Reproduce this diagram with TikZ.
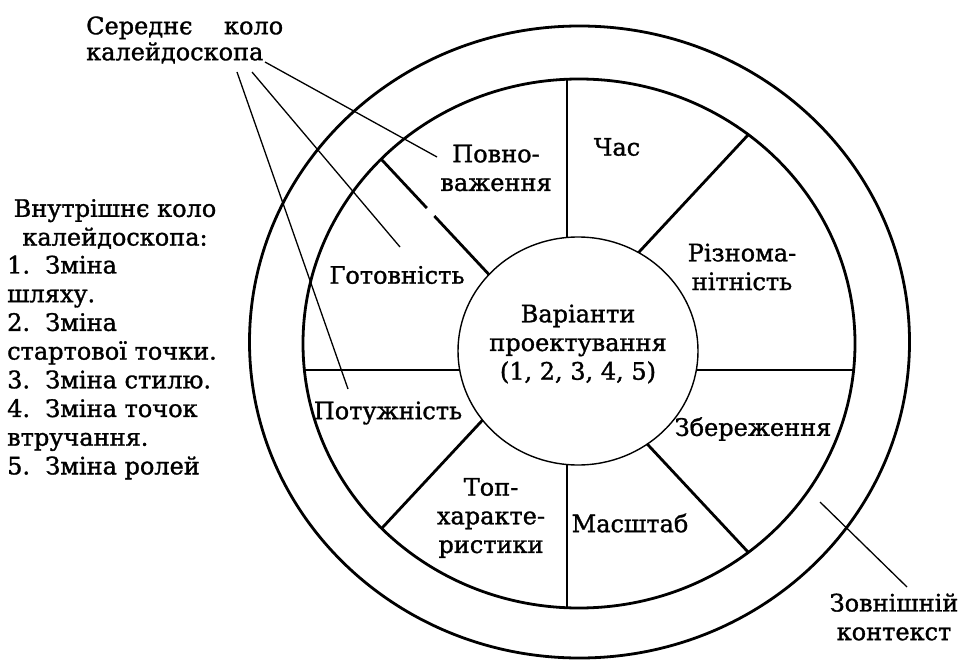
\documentclass[tikz,border=0pt]{standalone}
\usepackage{fontspec}
\setmainfont{DejaVu Serif}[FakeBold=1.3]
\begin{document}
\begin{tikzpicture}[x=1pt,y=-1pt,
  lbl/.style={inner sep=0pt, align=center, font=\fontsize{24}{28.7}\selectfont},
  ring/.style={line width=2.8pt},
  spoke/.style={line width=2.8pt},
  ptr/.style={line width=1.3pt}]
\useasboundingbox (0,0) rectangle (965,660);
% rings
\draw[ring] (579.5,342) ellipse [x radius=330pt, y radius=316pt];
\draw[ring] (579,343.5) ellipse [x radius=276pt, y radius=264.5pt];
% spokes
\begin{scope}
  \clip (579,343.5) ellipse [x radius=276pt, y radius=264.5pt];
  \draw[spoke] (567,0) -- (567,700);
  \draw[spoke] (200,370) -- (950,370);
  \draw[spoke] (930.5,-61) -- (200.5,723);
  \draw[spoke] (199,-36) -- (426.8,208);
  \draw[spoke] (434.3,216) -- (931,748);
\end{scope}
% inner circle
\draw[line width=1.4pt, fill=white] (578,351) ellipse [x radius=120pt, y radius=114pt];
% labels inside
\node[lbl] (povn) at (496,168) {Повно-\\важення};
\node[lbl] (chas) at (617,147) {Час};
\node[lbl] (rizn) at (742,267) {Різнома-\\нітність};
\node[lbl] (var) at (578,344) {Варіанти\\проектування\\(1, 2, 3, 4, 5)};
\node[lbl] (got) at (397,275) {Готовність};
\node[lbl] (pot) at (388,413) {Потужність};
\node[lbl] (zber) at (753,429) {Збереження};
\node[lbl] (masch) at (630,523) {Масштаб};
\node[lbl] (top) at (491,518) {Топ-\\характе-\\ристики};
\node[lbl] (zovn) at (894,617) {Зовнішній\\контекст};
% outside labels
\node[lbl, align=left, anchor=west, font=\fontsize{24}{26}\selectfont] (mid) at (86,40)
  {\makebox[197pt][s]{Середнє коло}\\калейдоскопа};
\node[lbl] (inner) at (115,224) {Внутрішнє коло\\калейдоскопа:};
\node[lbl, align=left, anchor=west] (list) at (7,367.5)
  {1.~~Зміна\\шляху.\\2.~~Зміна\\стартової точки.\\3.~~Зміна стилю.\\4.~~Зміна точок\\втручання.\\5.~~Зміна ролей};
% pointers
\coordinate (m1) at (265,62);
\coordinate (m2) at (252,72);
\coordinate (m3) at (237,72);
\coordinate (e1) at (437,157);
\coordinate (e2) at (400,247);
\coordinate (e3) at (348,389);
\draw[ptr] (m1) -- (e1);
\draw[ptr] (m2) -- (e2);
\draw[ptr] (m3) -- (e3);
\coordinate (z1) at (907,587);
\coordinate (z2) at (820,502);
\draw[ptr] (z1) -- (z2);
\end{tikzpicture}
\end{document}
